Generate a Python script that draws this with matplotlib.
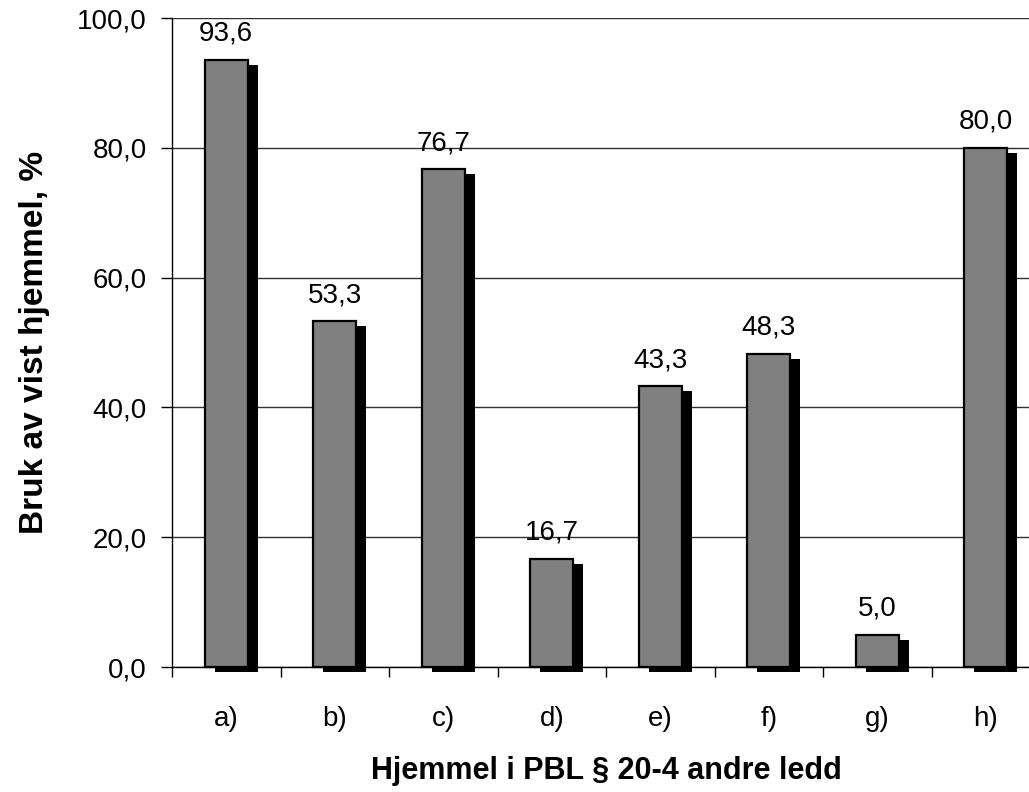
import numpy as np
from matplotlib import pyplot as plt
from matplotlib import patheffects as pe

plt.rcParams['font.family'] = ['Liberation Sans', 'DejaVu Sans']

categories = ['a)', 'b)', 'c)', 'd)', 'e)', 'f)', 'g)', 'h)']
values = [93.6, 53.3, 76.7, 16.7, 43.3, 48.3, 5.0, 80.0]
yticks = [0, 20, 40, 60, 80, 100]

fig = plt.figure(figsize=(10.29, 7.92), dpi=100)
ax = fig.add_axes([0.1672, 0.1578, 0.8435, 0.8194])

x = np.arange(len(categories))
shadow = [pe.SimplePatchShadow(offset=(7.2, -3.6), shadow_rgbFace='black', alpha=1.0),
          pe.Normal()]
bars = ax.bar(x, values, width=0.4, color='#808080', edgecolor='black',
              linewidth=1.6, zorder=3, clip_on=False)
for b in bars:
    b.set_path_effects(shadow)

for xi, v in zip(x, values):
    ax.text(xi, v + 2.0, f'{v:.1f}'.replace('.', ','), ha='center', va='bottom',
            fontsize=20)

ax.set_xlim(-0.5, len(categories) - 0.5)
ax.set_ylim(0, 100)

# category boundaries get tick marks, labels sit in the middle
ax.set_xticks(np.arange(-0.5, len(categories), 1.0))
ax.set_xticklabels([])
ax.set_xticks(x, minor=True)
ax.set_xticklabels(categories, minor=True, fontsize=20)
ax.tick_params(axis='x', which='major', direction='out', length=7, width=1)
ax.tick_params(axis='x', which='minor', length=0, pad=28)

ax.set_yticks(yticks)
ax.set_yticklabels([f'{t:.1f}'.replace('.', ',') for t in yticks], fontsize=20)
ax.tick_params(axis='y', direction='out', length=8, width=1, pad=10)

ax.yaxis.grid(True, color='#303030', linewidth=1, zorder=0)
ax.set_axisbelow(True)
for s in ['top', 'right']:
    ax.spines[s].set_visible(False)
ax.spines['left'].set_linewidth(1)
ax.spines['bottom'].set_linewidth(1)

ax.set_xlabel('Hjemmel i PBL § 20-4 andre ledd', fontsize=22, fontweight='bold', labelpad=17)
ax.set_ylabel('Bruk av vist hjemmel, %', fontsize=24, fontweight='bold', labelpad=20)

fig.savefig('out.png', dpi=100)
